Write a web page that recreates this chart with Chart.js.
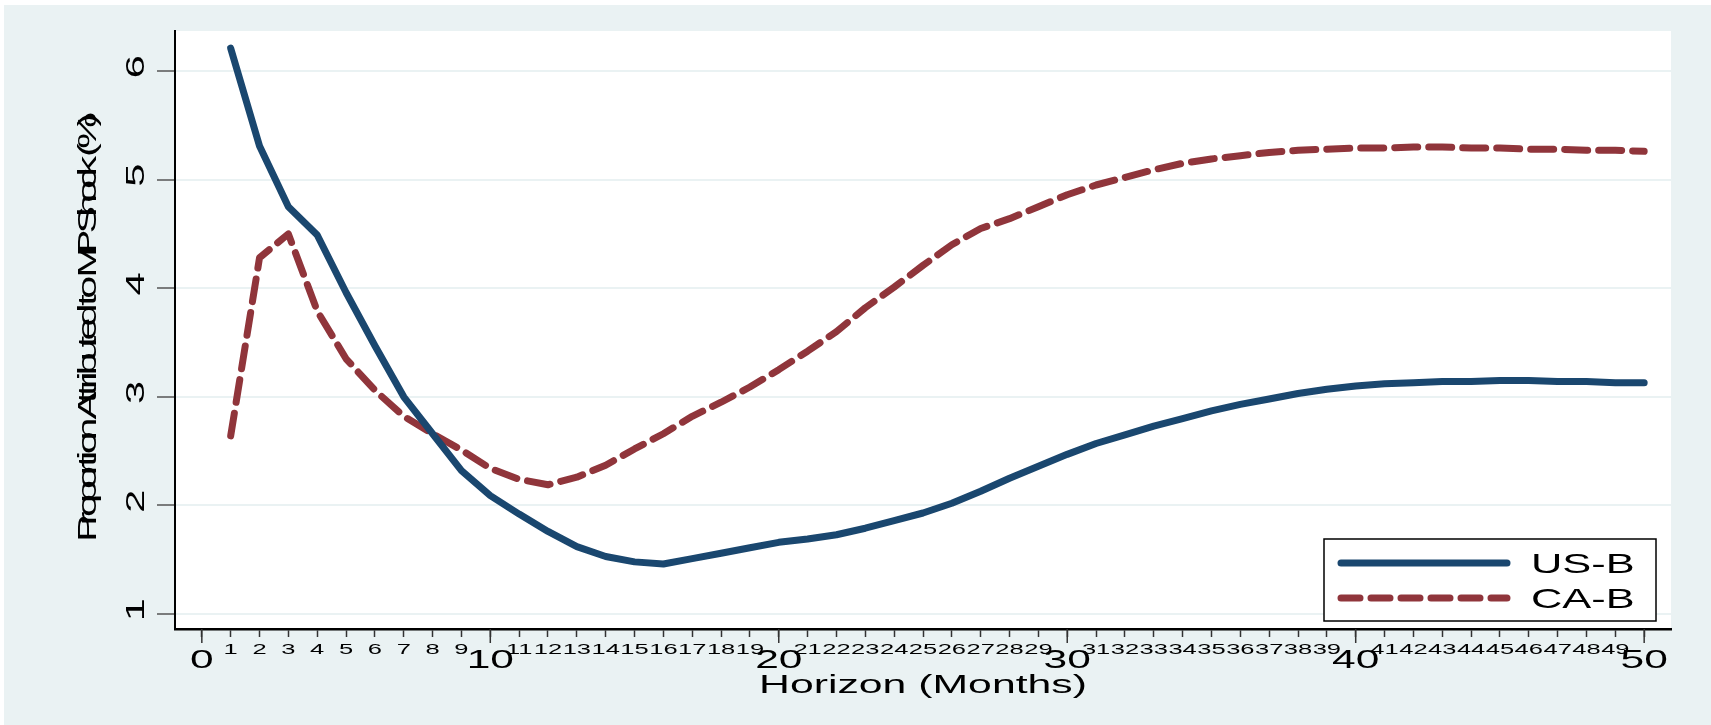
<!DOCTYPE html>
<html lang="en">
<head>
    <meta charset="UTF-8">
    <title>Proportion Attributed to MP Shock</title>
    <script src="https://cdn.jsdelivr.net/npm/chart.js@4.4.0/dist/chart.umd.min.js"></script>
    <style>
        body {
            margin: 0;
            background-color: #ffffff;
        }
        canvas {
            display: block;
        }
    </style>
</head>
<body>
    <canvas id="fevdChart" width="1711" height="725"></canvas>

    <script>
        // Horizon in months
        const horizon = [1, 2, 3, 4, 5, 6, 7, 8, 9, 10,
                         11, 12, 13, 14, 15, 16, 17, 18, 19, 20,
                         21, 22, 23, 24, 25, 26, 27, 28, 29, 30,
                         31, 32, 33, 34, 35, 36, 37, 38, 39, 40,
                         41, 42, 43, 44, 45, 46, 47, 48, 49, 50];

        // Share of variance attributed to the MP shock (%)
        const usB = [6.21, 5.31, 4.75, 4.49, 3.96, 3.47, 3.00, 2.66, 2.32, 2.09,
                     1.92, 1.76, 1.62, 1.53, 1.48, 1.46, 1.51, 1.56, 1.61, 1.66,
                     1.69, 1.73, 1.79, 1.86, 1.93, 2.02, 2.13, 2.25, 2.36, 2.47,
                     2.57, 2.65, 2.73, 2.80, 2.87, 2.93, 2.98, 3.03, 3.07, 3.10,
                     3.12, 3.13, 3.14, 3.14, 3.15, 3.15, 3.14, 3.14, 3.13, 3.13];

        const caB = [2.64, 4.28, 4.50, 3.79, 3.35, 3.06, 2.82, 2.66, 2.51, 2.34,
                     2.24, 2.19, 2.26, 2.37, 2.52, 2.66, 2.82, 2.95, 3.09, 3.25,
                     3.42, 3.60, 3.82, 4.01, 4.21, 4.40, 4.55, 4.64, 4.75, 4.86,
                     4.95, 5.02, 5.09, 5.15, 5.19, 5.22, 5.25, 5.27, 5.28, 5.29,
                     5.29, 5.30, 5.30, 5.29, 5.29, 5.28, 5.28, 5.27, 5.27, 5.26];

        const seriesLabels = ['US-B', 'CA-B'];
        const xTitle = 'Horizon (Months)';
        const yTitle = 'Proportion Attributed to MP Shock (%)';

        const FONT = '"Liberation Sans", Arial, sans-serif';
        const BG = '#eaf2f3'; // Stata ltbluishgray

        // Stata export has stretched glyphs, so text is drawn widened
        function wideText(ctx, str, x, y, sx, align) {
            const w = ctx.measureText(str).width * sx;
            let x0 = x;
            if (align === 'center') x0 = x - w / 2;
            if (align === 'right') x0 = x - w;
            ctx.save();
            ctx.translate(x0, y);
            ctx.scale(sx, 1);
            ctx.textAlign = 'left';
            ctx.fillText(str, 0, 0);
            ctx.restore();
        }

        // Vertical text reading upward: glyphs widened but advanced with normal widths
        function upText(ctx, str, baseX, centerY, sx) {
            ctx.save();
            ctx.translate(baseX, centerY);
            ctx.rotate(-Math.PI / 2);
            ctx.textAlign = 'left';
            const start = -ctx.measureText(str).width / 2;
            for (let i = 0; i < str.length; i++) {
                const off = ctx.measureText(str.slice(0, i)).width;
                ctx.save();
                ctx.translate(start + off, 0);
                ctx.scale(sx, 1);
                ctx.fillText(str[i], 0, 0);
                ctx.restore();
            }
            ctx.restore();
        }

        const backgroundPlugin = {
            id: 'stataBackground',
            beforeDraw(chart) {
                const ctx = chart.ctx;
                const a = chart.chartArea;
                ctx.save();
                ctx.fillStyle = '#ffffff';
                ctx.fillRect(0, 0, chart.width, chart.height);
                ctx.fillStyle = BG;
                ctx.fillRect(4, 5, chart.width - 4, chart.height - 5);
                ctx.fillStyle = '#ffffff';
                ctx.fillRect(a.left, a.top, a.right - a.left, a.bottom - a.top);
                ctx.restore();
            }
        };

        const labelsPlugin = {
            id: 'stataLabels',
            afterDraw(chart) {
                const ctx = chart.ctx;
                const a = chart.chartArea;
                const xs = chart.scales.x;
                const ys = chart.scales.y;
                ctx.save();
                ctx.fillStyle = '#000000';
                ctx.textBaseline = 'alphabetic';

                // longer ticks at multiples of 10
                ctx.strokeStyle = '#333333';
                ctx.lineWidth = 1.5;
                xs.ticks.forEach(t => {
                    if (t.value % 10 === 0) {
                        const px = xs.getPixelForValue(t.value);
                        ctx.beginPath();
                        ctx.moveTo(px, a.bottom);
                        ctx.lineTo(px, a.bottom + 14);
                        ctx.stroke();
                    }
                });

                // x tick labels: small for months, large for every tenth
                xs.ticks.forEach(t => {
                    const px = xs.getPixelForValue(t.value);
                    if (t.value % 10 === 0) {
                        ctx.font = '25px ' + FONT;
                        wideText(ctx, String(t.value), px, a.bottom + 39, 1.7, 'center');
                    } else {
                        ctx.font = '15px ' + FONT;
                        wideText(ctx, String(t.value), px, a.bottom + 25, 1.7, 'center');
                    }
                });

                // y tick labels, vertical
                ctx.font = '26px ' + FONT;
                ys.ticks.forEach(t => {
                    upText(ctx, String(t.value), 144, ys.getPixelForValue(t.value), 1.6);
                });

                // axis titles
                ctx.font = '25px ' + FONT;
                wideText(ctx, xTitle, (a.left + a.right) / 2, 693, 1.71, 'center');
                upText(ctx, yTitle, 96, (a.top + a.bottom) / 2, 1.65);

                // legend box
                const lx = 1324, ly = 539, lw = 332, lh = 82;
                ctx.fillStyle = '#ffffff';
                ctx.fillRect(lx, ly, lw, lh);
                ctx.strokeStyle = '#000000';
                ctx.lineWidth = 1.5;
                ctx.strokeRect(lx, ly, lw, lh);

                const rows = [563, 598];
                chart.data.datasets.forEach((ds, i) => {
                    ctx.save();
                    ctx.strokeStyle = ds.borderColor;
                    ctx.lineWidth = ds.borderWidth;
                    ctx.lineCap = 'round';
                    ctx.setLineDash(ds.borderDash && ds.borderDash.length ? [19, 11] : []);
                    ctx.beginPath();
                    ctx.moveTo(1341, rows[i]);
                    ctx.lineTo(1507, rows[i]);
                    ctx.stroke();
                    ctx.restore();
                    ctx.fillStyle = '#000000';
                    ctx.font = '28px ' + FONT;
                    wideText(ctx, ds.label, 1531, rows[i] + 10, 1.55, 'left');
                });
                ctx.restore();
            }
        };

        const ctx = document.getElementById('fevdChart').getContext('2d');
        const fevdChart = new Chart(ctx, {
            type: 'line',
            data: {
                datasets: [
                    {
                        label: seriesLabels[0],
                        data: horizon.map((h, i) => ({ x: h, y: usB[i] })),
                        borderColor: '#1a476f',
                        borderWidth: 7,
                        borderCapStyle: 'round',
                        borderJoinStyle: 'round',
                        pointRadius: 0,
                        tension: 0,
                        fill: false
                    },
                    {
                        label: seriesLabels[1],
                        data: horizon.map((h, i) => ({ x: h, y: caB[i] })),
                        borderColor: '#90353b',
                        borderWidth: 7,
                        borderDash: [23, 11],
                        borderCapStyle: 'round',
                        borderJoinStyle: 'round',
                        pointRadius: 0,
                        tension: 0,
                        fill: false
                    }
                ]
            },
            options: {
                responsive: false,
                animation: false,
                devicePixelRatio: 1,
                layout: {
                    padding: { left: 0, top: 31, right: 40, bottom: 0 }
                },
                plugins: {
                    legend: { display: false },
                    tooltip: { enabled: false },
                    title: { display: false }
                },
                scales: {
                    x: {
                        type: 'linear',
                        min: -0.93,
                        max: 50.93,
                        afterFit: scale => { scale.height = 96; },
                        ticks: {
                            stepSize: 1,
                            includeBounds: false,
                            display: false
                        },
                        grid: {
                            drawOnChartArea: false,
                            drawTicks: true,
                            tickLength: 8,
                            tickColor: '#333333',
                            tickWidth: 1.5
                        },
                        border: { color: '#000000', width: 2.5 }
                    },
                    y: {
                        type: 'linear',
                        min: 0.862,
                        max: 6.368,
                        afterFit: scale => { scale.width = 175; },
                        ticks: {
                            stepSize: 1,
                            includeBounds: false,
                            display: false
                        },
                        grid: {
                            color: BG,
                            lineWidth: 2,
                            drawTicks: true,
                            tickLength: 18,
                            tickColor: '#555555',
                            tickWidth: 1.5
                        },
                        border: { color: '#000000', width: 2 }
                    }
                }
            },
            plugins: [backgroundPlugin, labelsPlugin]
        });
    </script>
</body>
</html>
